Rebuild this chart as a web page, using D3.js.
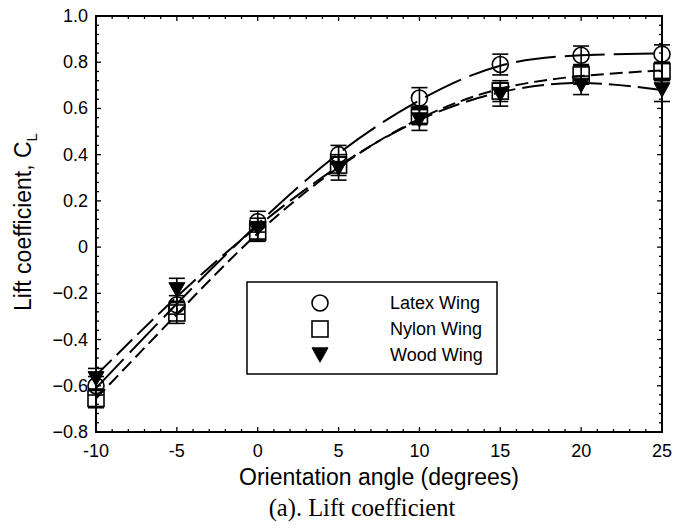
<!DOCTYPE html>
<html>
<head>
<meta charset="utf-8">
<script src="https://cdn.jsdelivr.net/npm/d3@7"></script>
<style>
  body { margin: 0; background: #fff; }
  svg { display: block; }
</style>
</head>
<body>
<div id="chart"></div>
<script>
const angles = [-10, -5, 0, 5, 10, 15, 20, 25];

const latexCL  = [-0.60, -0.25, 0.11, 0.40, 0.645, 0.79, 0.83, 0.835];
const nylonCL  = [-0.655, -0.285, 0.065, 0.355, 0.57, 0.675, 0.745, 0.76];
const woodCL   = [-0.57, -0.185, 0.08, 0.34, 0.55, 0.66, 0.70, 0.68];

const latexErr = [0.04, 0.04, 0.045, 0.04, 0.045, 0.045, 0.04, 0.04];
const nylonErr = [0.04, 0.045, 0.04, 0.045, 0.04, 0.045, 0.04, 0.04];
const woodErr  = [0.045, 0.05, 0.045, 0.05, 0.045, 0.05, 0.04, 0.05];

// fitted curves, read at the same angles
const latexFit = [-0.61, -0.245, 0.10, 0.405, 0.635, 0.785, 0.83, 0.838];
const nylonFit = [-0.655, -0.29, 0.06, 0.345, 0.555, 0.685, 0.74, 0.765];
const woodFit  = [-0.555, -0.215, 0.09, 0.35, 0.55, 0.67, 0.71, 0.68];

const xTicks = [-10, -5, 0, 5, 10, 15, 20, 25];
const yTicks = [-0.8, -0.6, -0.4, -0.2, 0, 0.2, 0.4, 0.6, 0.8, 1.0];

const seriesNames = ["Latex Wing", "Nylon Wing", "Wood Wing"];

const W = 673, H = 528;
const pL = 96, pR = 662, pT = 16, pB = 432;

const svg = d3.select("#chart").append("svg")
    .attr("width", W)
    .attr("height", H);

const x = d3.scaleLinear().domain([-10, 25]).range([pL, pR]);
const y = d3.scaleLinear().domain([-0.8, 1.0]).range([pB, pT]);

const series = [
    { name: seriesNames[0], vals: latexCL, err: latexErr, fit: latexFit, dash: "40,9", shape: "circle" },
    { name: seriesNames[1], vals: nylonCL, err: nylonErr, fit: nylonFit, dash: "13,6", shape: "square" },
    { name: seriesNames[2], vals: woodCL,  err: woodErr,  fit: woodFit,  dash: "22,7", shape: "tri" }
];

// ticks, all four sides, pointing in
const minorX = d3.range(-10, 25.01, 1);
const minorY = d3.range(-0.8, 1.001, 0.04);
const tk = svg.append("g").attr("stroke", "#000").attr("stroke-width", 1.3);

minorX.forEach(v => {
    const len = (Math.abs(v % 5) < 1e-6) ? 5 : 3;
    tk.append("line").attr("x1", x(v)).attr("x2", x(v)).attr("y1", pB).attr("y2", pB - len);
    tk.append("line").attr("x1", x(v)).attr("x2", x(v)).attr("y1", pT).attr("y2", pT + len);
});
minorY.forEach((v, i) => {
    const len = (i % 5 === 0) ? 5 : 3;
    tk.append("line").attr("y1", y(v)).attr("y2", y(v)).attr("x1", pL).attr("x2", pL + len);
    tk.append("line").attr("y1", y(v)).attr("y2", y(v)).attr("x1", pR).attr("x2", pR - len);
});

// frame
svg.append("rect")
    .attr("x", pL).attr("y", pT)
    .attr("width", pR - pL).attr("height", pB - pT)
    .attr("fill", "none").attr("stroke", "#000").attr("stroke-width", 2);

// tick labels
svg.append("g").selectAll("text")
    .data(xTicks).enter().append("text")
    .attr("x", d => x(d)).attr("y", 457)
    .attr("text-anchor", "middle")
    .style("font", "18px Arial, 'Liberation Sans', sans-serif")
    .text(d => d);

svg.append("g").selectAll("text")
    .data(yTicks).enter().append("text")
    .attr("x", 88).attr("y", d => y(d) + 6)
    .attr("text-anchor", "end")
    .style("font", "18px Arial, 'Liberation Sans', sans-serif")
    .text(d => d === 0 ? "0" : d3.format(".1f")(d));

// axis titles
svg.append("text")
    .attr("x", (pL + pR) / 2).attr("y", 485)
    .attr("text-anchor", "middle")
    .style("font", "23px Arial, 'Liberation Sans', sans-serif")
    .text("Orientation angle (degrees)");

const yt = svg.append("text")
    .attr("transform", "translate(31,222) rotate(-90)")
    .attr("text-anchor", "middle")
    .style("font", "23px Arial, 'Liberation Sans', sans-serif");
yt.append("tspan").text("Lift coefficient, C");
yt.append("tspan").attr("dy", 6).style("font-size", "15px").text("L");

svg.append("text")
    .attr("x", 362).attr("y", 516)
    .attr("text-anchor", "middle")
    .style("font", "24.5px 'Times New Roman', 'Liberation Serif', serif")
    .text("(a). Lift coefficient");

// fitted curves
const line = d3.line()
    .x((d, i) => x(angles[i]))
    .y(d => y(d))
    .curve(d3.curveNatural);

svg.append("g").selectAll("path")
    .data(series).enter().append("path")
    .attr("d", d => line(d.fit))
    .attr("fill", "none")
    .attr("stroke", "#000")
    .attr("stroke-width", 2)
    .attr("stroke-dasharray", d => d.dash);

// markers
function drawMarker(g, shape, cx, cy, s) {
    if (shape === "circle") {
        g.append("circle").attr("cx", cx).attr("cy", cy).attr("r", s / 2)
            .attr("fill", "none").attr("stroke", "#000").attr("stroke-width", 1.6);
    } else if (shape === "square") {
        g.append("rect").attr("x", cx - s / 2).attr("y", cy - s / 2)
            .attr("width", s).attr("height", s)
            .attr("fill", "none").attr("stroke", "#000").attr("stroke-width", 1.6);
    } else {
        const h = s * 0.9;
        g.append("path")
            .attr("d", `M${cx - s / 2},${cy - h / 2}L${cx + s / 2},${cy - h / 2}L${cx},${cy + h / 2}Z`)
            .attr("fill", "#000").attr("stroke", "#000").attr("stroke-width", 1);
    }
}

const pts = svg.append("g");
series.forEach(s => {
    s.vals.forEach((v, i) => {
        const cx = x(angles[i]);
        const g = pts.append("g").attr("stroke", "#000").attr("stroke-width", 1.6);
        g.append("line").attr("x1", cx).attr("x2", cx).attr("y1", y(v - s.err[i])).attr("y2", y(v + s.err[i]));
        g.append("line").attr("x1", cx - 8).attr("x2", cx + 8).attr("y1", y(v + s.err[i])).attr("y2", y(v + s.err[i]));
        g.append("line").attr("x1", cx - 8).attr("x2", cx + 8).attr("y1", y(v - s.err[i])).attr("y2", y(v - s.err[i]));
        drawMarker(pts, s.shape, cx, y(v), 16);
    });
});

// legend
const lg = svg.append("g");
lg.append("rect")
    .attr("x", 247).attr("y", 282).attr("width", 250).attr("height", 92)
    .attr("fill", "#fff").attr("stroke", "#000").attr("stroke-width", 1.5);

series.forEach((s, i) => {
    const cy = 303 + i * 26;
    drawMarker(lg, s.shape, 320, cy, 16);
    lg.append("text")
        .attr("x", 390).attr("y", cy + 6)
        .style("font", "18px Arial, 'Liberation Sans', sans-serif")
        .text(s.name);
});
</script>
</body>
</html>
